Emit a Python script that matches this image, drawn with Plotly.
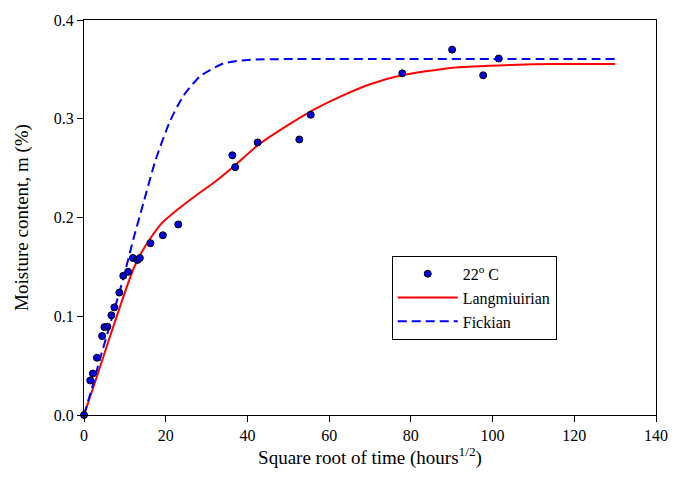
import plotly.graph_objects as go

# Measured data (22 °C)
data_x = [0, 1.53, 2.18, 3.16, 4.44, 5.0, 5.73, 6.7, 7.43, 8.64, 9.61, 10.8, 11.97,
          13.1, 13.67, 16.26, 19.3, 23.06, 36.3, 37.0, 42.5, 52.7, 55.5, 77.9, 90.1,
          97.7, 101.5]
data_y = [0.0, 0.035, 0.042, 0.058, 0.080, 0.089, 0.0895, 0.101, 0.109, 0.124, 0.141,
          0.145, 0.159, 0.157, 0.159, 0.174, 0.182, 0.193, 0.263, 0.251, 0.276, 0.279,
          0.304, 0.346, 0.370, 0.344, 0.361]

# Langmuirian fit curve
lang_x = [0, 3, 6, 9, 10.5, 12, 14, 16.1, 19, 22.6, 27, 32.3, 37, 42.5, 50.1, 56.6,
          63, 70, 77.8, 89.7, 104.3, 115.6, 130]
lang_y = [0.0, 0.037, 0.075, 0.112, 0.130, 0.147, 0.164, 0.178, 0.194, 0.207, 0.221,
          0.237, 0.253, 0.273, 0.294, 0.310, 0.323, 0.335, 0.344, 0.3515, 0.3545,
          0.3555, 0.3555]

# Fickian fit curve
fick_x = [0, 2.0, 4.0, 6.4, 9.6, 12.2, 14.5, 17.5, 21.1, 24.3, 28.4, 34.1, 40.0, 50.0,
          70.0, 100.0, 130.0]
fick_y = [0.0, 0.028, 0.058, 0.092, 0.138, 0.180, 0.214, 0.258, 0.298, 0.323, 0.343,
          0.356, 0.3595, 0.3605, 0.3605, 0.3605, 0.3605]

x_ticks = [0, 20, 40, 60, 80, 100, 120, 140]
y_ticks = [0.0, 0.1, 0.2, 0.3, 0.4]

FONT = "Liberation Serif, Times New Roman, serif"

fig = go.Figure()
fig.add_trace(go.Scatter(x=lang_x, y=lang_y, mode="lines", name="Langmiuirian",
                         line=dict(color="#ff0000", width=2, shape="spline", smoothing=0.5),
                         legendrank=2, cliponaxis=False))
fig.add_trace(go.Scatter(x=fick_x, y=fick_y, mode="lines", name="Fickian",
                         line=dict(color="#0000ff", width=2, dash="9px,5px", shape="spline",
                                   smoothing=0.6),
                         legendrank=3, cliponaxis=False))
fig.add_trace(go.Scatter(x=data_x, y=data_y, mode="markers", name="22<sup>o</sup> C",
                         marker=dict(color="#0000e6", size=7,
                                     line=dict(color="black", width=1)),
                         legendrank=1, cliponaxis=False))

fig.update_layout(
    width=680, height=497,
    margin=dict(l=84, r=20, t=13, b=82),
    paper_bgcolor="white", plot_bgcolor="white",
    font=dict(family=FONT, size=16, color="black"),
    showlegend=True,
    legend=dict(x=0.538, y=0.403, xanchor="left", yanchor="top",
                bgcolor="white", bordercolor="black", borderwidth=1,
                itemwidth=60, entrywidth=92,
                font=dict(family=FONT, size=16), tracegroupgap=0),
    xaxis=dict(range=[0, 140], tickvals=x_ticks, ticks="outside", ticklen=6,
               tickcolor="black", showline=True, linecolor="black", linewidth=1,
               mirror=True, showgrid=False, zeroline=False,
               title=dict(text="Square root of time (hours<sup>1/2</sup>)", standoff=0)),
    yaxis=dict(range=[0, 0.4], tickvals=y_ticks, tickformat=".1f", ticks="outside",
               ticklen=6, tickcolor="black", showline=True, linecolor="black",
               linewidth=1, mirror=True, showgrid=False, zeroline=False,
               title=dict(text="Moisture content, m (%)", standoff=20)),
)

fig.write_html("out.html")
